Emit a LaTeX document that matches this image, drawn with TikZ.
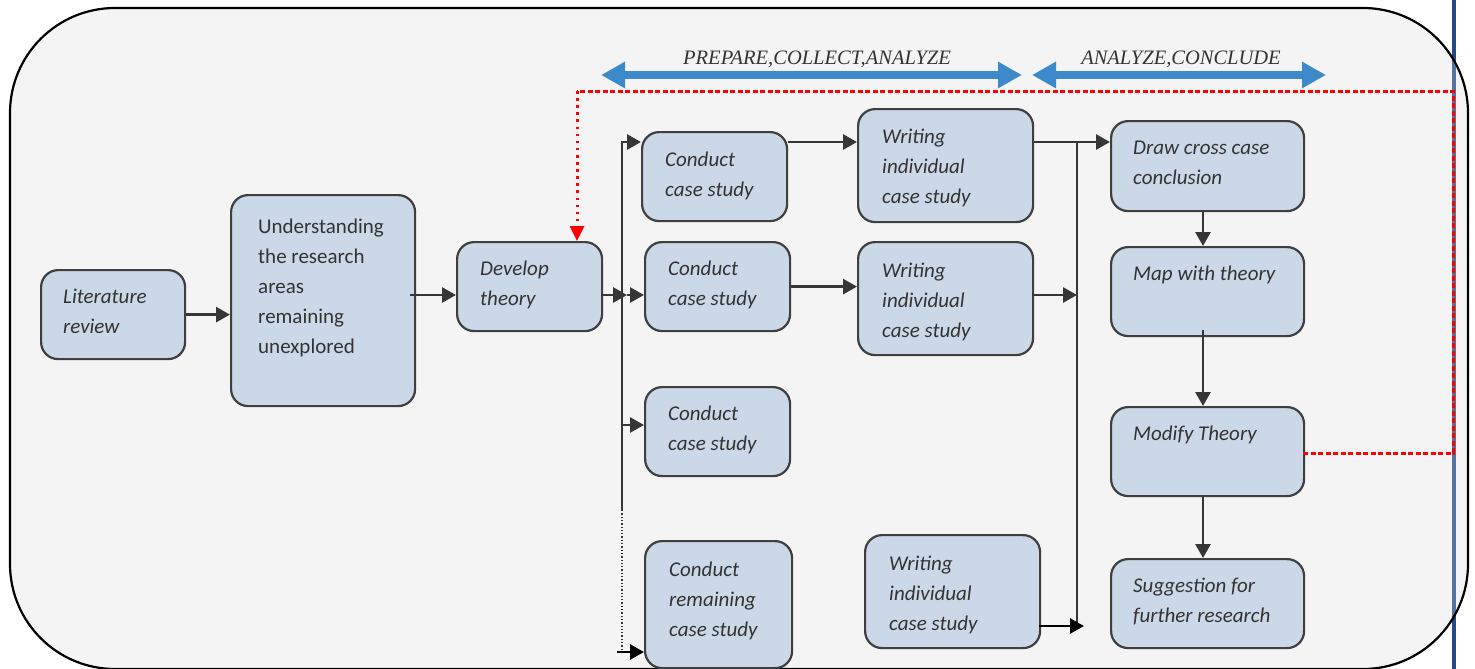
\documentclass[tikz,border=0pt]{standalone}
\usepackage{fontspec}
\setmainfont{Carlito}
\newfontfamily\labfont{Liberation Serif}
\usetikzlibrary{arrows.meta}
\definecolor{boxfill}{HTML}{CBD8E8}
\definecolor{boxline}{HTML}{3F3F3F}
\definecolor{arrcol}{HTML}{363636}
\definecolor{txtcol}{HTML}{333333}
\definecolor{bgfill}{HTML}{F4F4F4}
\definecolor{bluearr}{HTML}{3C8AC9}
\definecolor{navy}{HTML}{264B82}
\definecolor{navylight}{HTML}{56739F}
\newcommand\mybox[5]{\node[box, anchor=north west, minimum width={#4-#2}, minimum height={#5-#3}] (#1) at (#2,#3) {};}
\newcommand\mytext[5][txt]{\node[#1] (#2) at (#3,{#4-21}) {\strut #5};}
\begin{document}
\begin{tikzpicture}[x=1pt,y=-1pt,
  box/.style={draw=boxline, fill=boxfill, line width=2.2pt, rounded corners=17pt, inner sep=0pt},
  txt/.style={anchor=north west, inner sep=0pt, align=left, text=txtcol, font=\fontsize{21}{30}\selectfont\itshape},
  txtup/.style={anchor=north west, inner sep=0pt, align=left, text=txtcol, font=\fontsize{21}{30}\selectfont},
  lab/.style={anchor=base, inner sep=0pt, text=txtcol, font=\fontsize{20.5}{24}\labfont\itshape},
  plain/.style={draw=arrcol, line width=2.8pt},
  arr/.style={plain, -{Triangle[length=14pt,width=15pt]}},
  arrblack/.style={draw=black, line width=2.8pt, -{Triangle[length=14pt,width=15pt]}},
  trunkdot/.style={draw=arrcol, line width=1.4pt, dash pattern=on 1.3pt off 2pt},
  reddash/.style={draw=red, line width=3pt, dash pattern=on 5pt off 2.5pt},
  reddot/.style={draw=red, line width=3pt, dash pattern=on 2.6pt off 4.5pt, -{Triangle[length=15pt,width=14pt]}},
  bluedbl/.style={draw=bluearr, line width=8pt, {Triangle[length=24pt,width=25pt]}-{Triangle[length=24pt,width=25pt]}}
]
\useasboundingbox (0,0) rectangle (1475,669);
% outer frame
\fill[bgfill, rounded corners=105pt] (10,8) rectangle (1468,669);
\draw[navy, line width=3.5pt] (1454,0) -- (1454,60.6);
\draw[navylight, line width=3.5pt] (1454,60.6) -- (1454,616.4);
\draw[navy, line width=3.5pt] (1454,616.4) -- (1454,669);
\draw[black, line width=2.2pt, rounded corners=105pt] (10,8) rectangle (1468,669);

% phase arrows and labels
\coordinate (ba1) at (601,75);
\coordinate (ba2) at (1022,75);
\coordinate (ba3) at (1032,75);
\coordinate (ba4) at (1326,75);
\draw[bluedbl] (ba1) -- (ba2);
\draw[bluedbl] (ba3) -- (ba4);
\node[lab] (lab1) at (817,64) {PREPARE,COLLECT,ANALYZE};
\node[lab] (lab2) at (1181,64) {ANALYZE,CONCLUDE};

% boxes
\mybox{lit}{40}{269}{184}{358}
\mybox{und}{230}{194}{414}{405}
\mybox{dev}{456}{241}{601}{330}
\mybox{c1}{641}{131}{786}{220}
\mybox{c2}{644}{241}{789}{330}
\mybox{c3}{644}{386}{789}{475}
\mybox{c4}{644}{540}{791}{667}
\mybox{w1}{857}{108}{1032}{221}
\mybox{w2}{857}{241}{1032}{354}
\mybox{w3}{864}{534}{1039}{647}
\mybox{dr}{1110}{120}{1303}{210}
\mybox{mp}{1110}{246}{1303}{335}
\mybox{md}{1110}{406}{1303}{495}
\mybox{sg}{1110}{558}{1303}{647}

% texts
\mytext{litT}{63}{303}{Literature\\review}
\mytext[txtup]{undT}{258}{233}{Understanding\\the research\\areas\\remaining\\unexplored}
\mytext{devT}{480}{275}{Develop\\theory}
\mytext{c1T}{665}{166}{Conduct\\case study}
\mytext{c2T}{668}{275}{Conduct\\case study}
\mytext{c3T}{668}{420}{Conduct\\case study}
\mytext{c4T}{669}{576}{Conduct\\remaining\\case study}
\mytext{w1T}{882}{143}{Writing\\individual\\case study}
\mytext{w2T}{882}{277}{Writing\\individual\\case study}
\mytext{w3T}{889}{570}{Writing\\individual\\case study}
\mytext{drT}{1133}{154}{Draw cross case\\conclusion}
\mytext{mpT}{1133}{280}{Map with theory}
\mytext{mdT}{1133}{440}{Modify Theory}
\mytext{sgT}{1133}{592}{Suggestion for\\further research}

% coordinates for connectors
\coordinate (u1) at (410,295);
\coordinate (d1) at (601,295);
\coordinate (d2) at (627,295);
\coordinate (t1) at (622,142);
\coordinate (t3) at (622,425);
\coordinate (t5) at (622,510);
\coordinate (t6) at (622,652);
\coordinate (t7) at (617,652);
\coordinate (rt1) at (1077,142);
\coordinate (rt3) at (1077,626);
\coordinate (rt4) at (1084,626);
\coordinate (b2) at (1032,295);
\coordinate (b3) at (1039,626);
\coordinate (v0) at (1203,0);
\coordinate (v2) at (1203,330);
\coordinate (r1) at (1303,453);
\coordinate (r2) at (1453,453);
\coordinate (r3) at (1453,91);
\coordinate (r4) at (577,91);

% connectors
\draw[arr] (lit.east) -- (lit.east -| und.west);
\draw[arr] (u1) -- (u1 -| dev.west);
\draw[arr] (d1) -- (d2);
\draw[arr] (d2) -- (d2 -| c2.west);
\draw[arr] (t5) -- (t1) -- (t1 -| c1.west);
\draw[arr] (t3) -- (t3 -| c3.west);
\draw[trunkdot] (t5) -- (t6);
\draw[arrblack] (t7) -- (t7 -| c4.west);
\draw[arr] (c1.east |- t1) -- (t1 -| w1.west);
\draw[arr] (c2.east) -- (c2.east -| w2.west);
\draw[arr] (w1.east |- t1) -- (t1 -| dr.west);
\draw[plain] (rt1) -- (rt3);
\draw[arr] (b2) -- (b2 -| rt1);
\draw[arrblack] (b3) -- (rt4);
\draw[arr] (v0 |- dr.south) -- (v0 |- mp.north);
\draw[arr] (v2) -- (v2 |- md.north);
\draw[arr] (v0 |- md.south) -- (v0 |- sg.north);

% feedback loop
\draw[reddash] (r1) -- (r2) -- (r3) -- (r4);
\draw[reddot] (r4) -- (r4 |- dev.north);
\end{tikzpicture}
\end{document}
